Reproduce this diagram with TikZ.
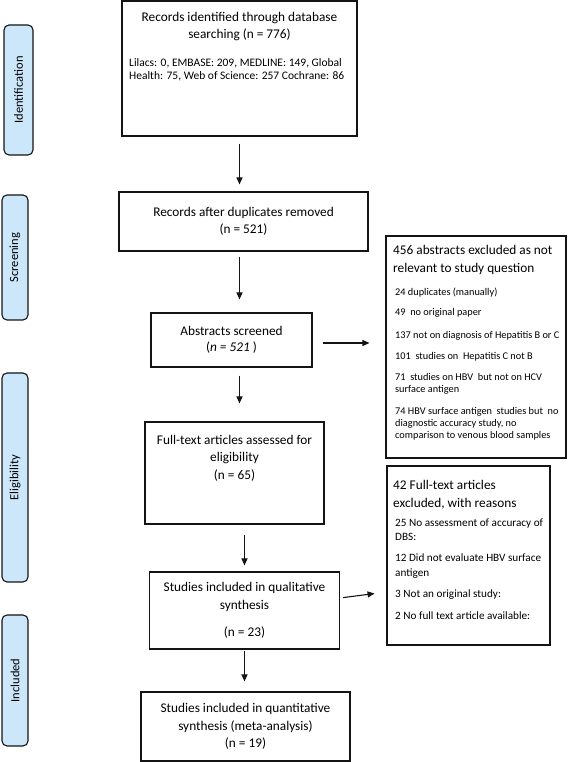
\documentclass[tikz,border=0pt]{standalone}
\usepackage{fontspec}
\setmainfont{Carlito}
\usetikzlibrary{arrows.meta}

\tikzset{
  stagebox/.style={draw=drawColor,line width=1.1pt,inner sep=0pt,align=center,
    font=\fontsize{13.3}{17.5}\selectfont},
  phasebar/.style={draw=drawColor,fill=phaseColor,line width=1.1pt,rounded corners=5pt,
    rotate=90,inner sep=0pt,font=\fontsize{12.5}{15}\selectfont},
  headtext/.style={inner sep=0pt,align=center,font=\fontsize{13.3}{17.5}\selectfont},
  smalltext/.style={inner sep=0pt,align=left,anchor=west,font=\fontsize{10.3}{12}\selectfont},
  midtext/.style={inner sep=0pt,align=left,anchor=west,font=\fontsize{11.2}{14.5}\selectfont},
  flowarrow/.style={draw=drawColor,line width=1.1pt,-{Triangle[length=7pt,width=6pt]}}
}

\begin{document}
\begin{tikzpicture}[x=1pt,y=1pt]
\definecolor{fillColor}{RGB}{255,255,255}
\definecolor{drawColor}{RGB}{20,20,20}
\definecolor{phaseColor}{RGB}{204,230,250}
\path[use as bounding box,fill=fillColor] (0,0) rectangle (568,762);

% phase bars
\node[phasebar,minimum width=130,minimum height=29] (identbar) at ( 18.5,672.0) {Identification};
\node[phasebar,minimum width=125,minimum height=26] (screenbar) at ( 15.0,504.5) {Screening};
\node[phasebar,minimum width=209,minimum height=26] (eligbar) at ( 15.0,284.5) {Eligibility};
\node[phasebar,minimum width=131,minimum height=26] (inclbar) at ( 15.0, 81.5) {Included};

% main column
\node[stagebox,minimum width=235,minimum height=135] (records) at (239.5,693.5) {};
\node[headtext] (recordstitle) at (239.5,735.5) {Records identified through database\\searching (n = 776)};
\node[inner sep=0pt,align=left,anchor=west,font=\fontsize{11.5}{13}\selectfont] (recordslist) at (129.0,692.5)
  {Lilacs: 0, EMBASE: 209, MEDLINE: 149, Global\\Health: 75, Web of Science: 257 Cochrane: 86};

\node[stagebox,minimum width=249,minimum height=59] (dupl) at (243.5,540.5) {Records after duplicates removed\\(n = 521)};

\node[stagebox,minimum width=161,minimum height=54,font=\fontsize{13.3}{16}\selectfont] (abstr) at (231.5,422.0)
  {Abstracts screened\\(\textit{n = 521} )};

\node[stagebox,minimum width=179,minimum height=102] (fulltext) at (234.5,289.0) {};
\node[headtext] (fulltitle) at (234.5,304.0) {Full-text articles assessed for\\eligibility\\(n = 65)};

\node[stagebox,minimum width=190,minimum height=77] (qualit) at (244.5,151.5)
  {Studies included in qualitative\\synthesis\\[10pt](n = 23)};

\node[stagebox,minimum width=209,minimum height=69] (quantit) at (245.5, 35.5)
  {Studies included in quantitative\\synthesis (meta-analysis)\\(n = 19)};

% excluded boxes
\node[stagebox,minimum width=180,minimum height=222] (exclabs) at (476.0,415.0) {};
\node[headtext,align=left,anchor=west] (exclabstitle) at (393.0,502.0) {456 abstracts excluded as not\\relevant to study question};
\node[smalltext] (exdup) at (395.0,469.0) {24 duplicates (manually)};
\node[smalltext] (exorig) at (395.0,449.0) {49 \ no original paper};
\node[smalltext] (exdiag) at (395.0,426.0) {137 not on diagnosis of Hepatitis B or C};
\node[smalltext] (exhcv) at (395.0,405.0) {101 \ studies on \ Hepatitis C not B};
\node[smalltext] (exhbv) at (395.0,378.0) {71 \ studies on HBV \ but not on HCV\\surface antigen};
\node[smalltext] (exacc) at (395.0,338.5) {74 HBV surface antigen \ studies but \ no\\diagnostic accuracy study, no\\comparison to venous blood samples};

\node[stagebox,minimum width=163,minimum height=179] (exclfull) at (468.5,206.5) {};
\node[headtext,align=left,anchor=west] (exclfulltitle) at (393.0,267.5) {42 Full-text articles\\excluded, with reasons};
\node[midtext] (exdbs) at (395.0,232.5) {25 No assessment of accuracy of\\DBS:};
\node[midtext] (exeval) at (395.0,196.0) {12 Did not evaluate HBV surface\\antigen};
\node[midtext] (exnot) at (395.0,167.0) {3 Not an original study:};
\node[midtext] (exnone) at (395.0,146.0) {2 No full text article available:};

% arrows
\draw[flowarrow,shorten <=7pt,shorten >=7pt] (records.south) -- (records.south |- dupl.north);
\draw[flowarrow,shorten <=5pt,shorten >=13pt] (dupl.south -| records.south) -- (abstr.north -| records.south);
\draw[flowarrow,shorten <=8pt,shorten >=18pt] (abstr.south -| records.south) -- (fulltext.north -| records.south);
\draw[flowarrow,shorten <=10pt,shorten >=6pt] (fulltext.south -| qualit.north) -- (qualit.north);
\draw[flowarrow,shorten <=1pt,shorten >=10pt] (qualit.south) -- (quantit.north -| qualit.south);
\draw[flowarrow,shorten <=10pt,shorten >=16pt] ([yshift=-3pt]abstr.east) -- ([yshift=-3pt]abstr.east -| exclabs.west);
\draw[flowarrow,shorten <=3pt,shorten >=12pt] ([yshift=12.5pt]qualit.east) -- ([yshift=-36.5pt]exclfull.west);
\end{tikzpicture}
\end{document}
